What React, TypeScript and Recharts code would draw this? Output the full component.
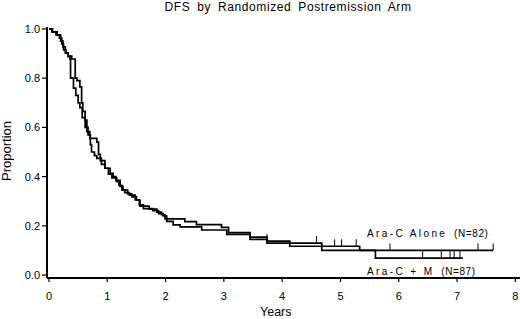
import React from "react";
import { LineChart, Line, XAxis, YAxis } from "recharts";

// Kaplan-Meier step points (years, proportion)
const aloneTimes = [0, 0.06, 0.12, 0.18, 0.22, 0.25, 0.29, 0.33, 0.39, 0.45, 0.48, 0.53, 0.56, 0.58, 0.62, 0.65, 0.7, 0.82, 0.85, 0.88, 0.96, 1.05, 1.1, 1.15, 1.22, 1.27, 1.35, 1.42, 1.5, 1.56, 1.72, 1.85, 1.93, 1.99, 2.33, 2.53, 2.96, 3.08, 3.45, 3.74, 4.13, 4.68, 5.33, 7.62];
const aloneSurv = [1.0, 0.988, 0.976, 0.963, 0.939, 0.915, 0.902, 0.89, 0.878, 0.8, 0.79, 0.765, 0.7, 0.665, 0.63, 0.583, 0.555, 0.54, 0.49, 0.465, 0.434, 0.413, 0.4, 0.385, 0.36, 0.345, 0.33, 0.318, 0.305, 0.28, 0.268, 0.256, 0.245, 0.228, 0.217, 0.205, 0.194, 0.172, 0.154, 0.138, 0.13, 0.117, 0.1, 0.1];
const aloneCensor = [3.74, 4.59, 4.9, 5.02, 5.27, 5.85, 7.36, 7.62];

const plusMTimes = [0, 0.05, 0.14, 0.2, 0.24, 0.28, 0.33, 0.36, 0.37, 0.42, 0.46, 0.5, 0.53, 0.57, 0.62, 0.67, 0.71, 0.73, 0.78, 0.82, 0.9, 0.96, 1.02, 1.08, 1.16, 1.2, 1.25, 1.3, 1.38, 1.48, 1.55, 1.62, 1.78, 1.88, 1.96, 2.02, 2.13, 2.25, 2.62, 3.05, 3.45, 3.74, 4.13, 4.68, 5.6, 7.1];
const plusMSurv = [1.0, 0.988, 0.976, 0.951, 0.927, 0.902, 0.888, 0.878, 0.8, 0.76, 0.73, 0.7, 0.68, 0.64, 0.6, 0.57, 0.53, 0.5, 0.485, 0.474, 0.45, 0.434, 0.41, 0.395, 0.38, 0.365, 0.345, 0.335, 0.325, 0.305, 0.285, 0.27, 0.262, 0.25, 0.24, 0.218, 0.204, 0.196, 0.183, 0.165, 0.145, 0.13, 0.117, 0.1, 0.069, 0.069];
const plusMCensor = [6.41, 6.73, 6.88, 6.95, 7.05];

const xTicks = [0, 1, 2, 3, 4, 5, 6, 7, 8];
const yTicks = [0, 0.2, 0.4, 0.6, 0.8, 1.0];

type Row = { t: number; p: number; c: boolean };

function buildRows(times: number[], surv: number[], censor: number[]): Row[] {
    const rows: Row[] = times.map((t, i) => ({ t, p: surv[i], c: false }));
    censor.forEach((c) => {
        let idx = 0;
        times.forEach((t, i) => {
            if (t <= c) idx = i;
        });
        const same = rows.find((r) => r.t === c);
        if (same) same.c = true;
        else rows.push({ t: c, p: surv[idx], c: true });
    });
    return rows.sort((a, b) => a.t - b.t);
}

const aloneRows = buildRows(aloneTimes, aloneSurv, aloneCensor);
const plusMRows = buildRows(plusMTimes, plusMSurv, plusMCensor);

const font = "'Liberation Sans', Arial, sans-serif";

const CensorTick = (props: any) => {
    const { cx, cy, payload, index } = props;
    if (!payload || !payload.c) return <g key={`n-${index}`} />;
    return <line key={`c-${index}`} x1={cx} x2={cx} y1={cy} y2={cy - 7} stroke="#000" strokeWidth={1} />;
};

const App = () => {
    return (
        <div style={{ position: "absolute", left: 0, top: 0, width: 520, height: 319, background: "#fff", fontFamily: font, overflow: "hidden" }}>
            <div
                style={{
                    position: "absolute",
                    left: 0,
                    width: 576,
                    top: 0,
                    textAlign: "center",
                    fontSize: 12,
                    letterSpacing: 0.6,
                    wordSpacing: 3,
                    lineHeight: "15px",
                }}
            >
                DFS by Randomized Postremission Arm
            </div>
            <LineChart width={520} height={319} margin={{ top: 27, right: 0, bottom: 0, left: 0 }}>
                <XAxis
                    type="number"
                    dataKey="t"
                    domain={[-0.034, 8.08]}
                    allowDataOverflow
                    ticks={xTicks}
                    tickSize={4}
                    tickMargin={10}
                    height={41}
                    axisLine={{ stroke: "#000", strokeWidth: 2 }}
                    tickLine={{ stroke: "#000", strokeWidth: 1.2 }}
                    tick={{ fill: "#000", fontSize: 11, fontFamily: font }}
                />
                <YAxis
                    type="number"
                    dataKey="p"
                    domain={[-0.012, 1.008]}
                    allowDataOverflow
                    ticks={yTicks}
                    tickFormatter={(v: number) => v.toFixed(1)}
                    width={47}
                    tickSize={5}
                    tickMargin={2}
                    axisLine={{ stroke: "#000", strokeWidth: 2 }}
                    tickLine={{ stroke: "#000", strokeWidth: 1.2 }}
                    tick={{ fill: "#000", fontSize: 11, fontFamily: font }}
                />
                <Line
                    data={aloneRows}
                    dataKey="p"
                    type="stepAfter"
                    stroke="#000"
                    strokeWidth={1.7}
                    dot={CensorTick}
                    activeDot={false}
                    isAnimationActive={false}
                />
                <Line
                    data={plusMRows}
                    dataKey="p"
                    type="stepAfter"
                    stroke="#000"
                    strokeWidth={1.7}
                    dot={CensorTick}
                    activeDot={false}
                    isAnimationActive={false}
                />
            </LineChart>
            <div style={{ position: "absolute", left: 260, top: 306, fontSize: 12.5, lineHeight: "13px" }}>Years</div>
            <div
                style={{
                    position: "absolute",
                    left: -33,
                    top: 144,
                    width: 80,
                    height: 14,
                    lineHeight: "14px",
                    textAlign: "center",
                    fontSize: 13,
                    transform: "rotate(-90deg)",
                    transformOrigin: "40px 7px",
                }}
            >
                Proportion
            </div>
            <div style={{ position: "absolute", left: 367, top: 228, fontSize: 10, letterSpacing: 2.4, whiteSpace: "pre" }}>
                Ara-C Alone<span style={{ letterSpacing: 0.6 }}>{"  (N=82)"}</span>
            </div>
            <div style={{ position: "absolute", left: 367, top: 266, fontSize: 10, letterSpacing: 2.4, whiteSpace: "pre" }}>
                Ara-C + M<span style={{ letterSpacing: 0.6 }}>{"  (N=87)"}</span>
            </div>
        </div>
    );
};

export default App;
